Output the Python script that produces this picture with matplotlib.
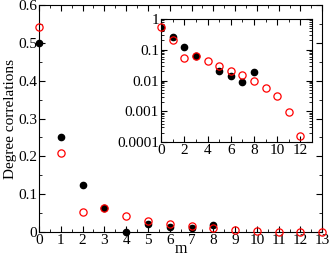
import matplotlib.pyplot as plt
from matplotlib.ticker import MultipleLocator, LogLocator, NullFormatter
import numpy as np

plt.rcParams['font.family'] = ['Liberation Serif', 'DejaVu Serif']

m_black = [0, 1, 2, 3, 4, 5, 6, 7, 8]
corr_black = [0.5, 0.25, 0.125, 0.0625, 0.0, 0.021, 0.0136, 0.0091, 0.0185]

m_red = [0, 1, 2, 3, 4, 5, 6, 7, 8, 9, 10, 11, 12, 13]
corr_red = [0.543, 0.21, 0.053, 0.064, 0.043, 0.030, 0.021, 0.0148, 0.0099,
            0.0057, 0.0032, 0.00093, 0.00016, 0.0]

x_ticks = list(range(0, 14))
y_ticks = [0, 0.1, 0.2, 0.3, 0.4, 0.5, 0.6]
y_ticklabels = ['0', '0.1', '0.2', '0.3', '0.4', '0.5', '0.6']
inset_x_ticks = [0, 2, 4, 6, 8, 10, 12]
inset_y_ticks = [1e-4, 1e-3, 1e-2, 1e-1, 1]
inset_y_ticklabels = ['0.0001', '0.001', '0.01', '0.1', '1']

fig = plt.figure(figsize=(3.32, 2.56), dpi=100)
ax = fig.add_axes([0.1175, 0.094, 0.853, 0.886])

ax.plot(m_black, corr_black, 'o', color='black', markersize=4.5, clip_on=False, zorder=3)
ax.plot(m_red, corr_red, 'o', mfc='none', mec='red', markersize=5.2, mew=0.9, clip_on=False, zorder=4)
ax.set_xlim(0, 13)
ax.set_ylim(0, 0.6)
ax.set_xticks(x_ticks)
ax.set_yticks(y_ticks)
ax.set_yticklabels(y_ticklabels)
ax.xaxis.set_minor_locator(MultipleLocator(0.5))
ax.yaxis.set_minor_locator(MultipleLocator(0.05))
ax.tick_params(which='both', direction='in', top=True, right=True, labelsize=11, pad=1.5)
ax.tick_params(which='major', length=4)
ax.tick_params(which='minor', length=2)
ax.set_xlabel('m', fontsize=11.5, labelpad=-4)
ax.set_ylabel('Degree correlations', fontsize=11, labelpad=1)

ins = fig.add_axes([0.485, 0.445, 0.455, 0.481])
ins.semilogy([m for m, c in zip(m_black, corr_black) if c > 0],
             [c for c in corr_black if c > 0], 'o', color='black', markersize=4.5, zorder=3)
ins.semilogy([m for m, c in zip(m_red, corr_red) if c > 0],
             [c for c in corr_red if c > 0], 'o', mfc='none', mec='red', markersize=5.2, mew=0.9,
             clip_on=False, zorder=4)
ins.set_xlim(0, 13)
ins.set_ylim(1e-4, 1)
ins.set_xticks(inset_x_ticks)
ins.set_yticks(inset_y_ticks)
ins.set_yticklabels(inset_y_ticklabels)
ins.xaxis.set_minor_locator(MultipleLocator(1))
ins.yaxis.set_minor_locator(LogLocator(base=10, subs=np.arange(2, 10)))
ins.yaxis.set_minor_formatter(NullFormatter())
ins.tick_params(which='both', direction='in', top=True, right=True, labelsize=11, pad=1.5)
ins.tick_params(which='major', length=4)
ins.tick_params(which='minor', length=2)

fig.savefig('out.png', dpi=100)
